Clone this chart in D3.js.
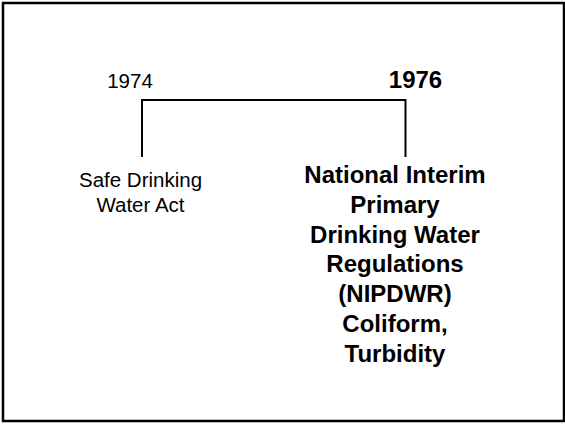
<!DOCTYPE html>
<html>
<head>
<meta charset="utf-8">
<script src="https://cdn.jsdelivr.net/npm/d3@7"></script>
<style>
  html, body { margin: 0; padding: 0; background: #fff; }
  svg { display: block; font-family: "Liberation Sans", Arial, sans-serif; }
</style>
</head>
<body>
<div id="chart"></div>
<script>
// Timeline milestones (bracket from 1974 to 1976).
const years = [1974, 1976];
const emphasis = [false, true];
const descriptions = [
  ["Safe Drinking", "Water Act"],
  ["National Interim", "Primary", "Drinking Water", "Regulations", "(NIPDWR)", "Coliform,", "Turbidity"]
];

const width = 565, height = 424;
const svg = d3.select("#chart").append("svg")
  .attr("width", width).attr("height", height);

// Frame.
svg.append("rect")
  .attr("x", 3).attr("y", 3).attr("width", 561).attr("height", 418)
  .attr("fill", "none").attr("stroke", "#000").attr("stroke-width", 2.5);

const x = d3.scaleLinear([years[0], years[1]], [142, 405.5]);
const barY = 100, tickBottom = 157;

// Bracket: top bar plus two drops.
const g = svg.append("g").attr("fill", "none").attr("stroke", "#000").attr("stroke-width", 2);
g.append("path")
  .attr("d", d3.line()([[x(years[0]), tickBottom], [x(years[0]), barY], [x(years[1]), barY], [x(years[1]), tickBottom]]));

const items = years.map((y, i) => ({ year: y, bold: emphasis[i], lines: descriptions[i] }));

// Year labels sit a bit off the drop lines, as in the original slide.
const yearShift = [-12, 10];
svg.append("g").selectAll("text.year").data(items).join("text")
  .attr("class", "year")
  .attr("x", (d, i) => x(d.year) + yearShift[i])
  .attr("y", 88)
  .attr("text-anchor", "middle")
  .attr("font-size", (d) => d.bold ? 24 : 20.5)
  .attr("font-weight", (d) => d.bold ? "bold" : "normal")
  .text((d) => d.year);

// Descriptions, centred under each drop.
const descShift = [-1.5, -10.5];
const desc = svg.append("g").selectAll("text.desc").data(items).join("text")
  .attr("class", "desc")
  .attr("x", (d, i) => x(d.year) + descShift[i])
  .attr("y", (d) => d.bold ? 183 : 187)
  .attr("text-anchor", "middle")
  .attr("font-size", (d) => d.bold ? 24 : 20.5)
  .attr("font-weight", (d) => d.bold ? "bold" : "normal");

desc.each(function (d, i) {
  const lh = d.bold ? 29.8 : 25;
  d3.select(this).selectAll("tspan").data(d.lines).join("tspan")
    .attr("x", x(d.year) + descShift[i])
    .attr("dy", (_, k) => k === 0 ? 0 : lh)
    .text((s) => s);
});
</script>
</body>
</html>
